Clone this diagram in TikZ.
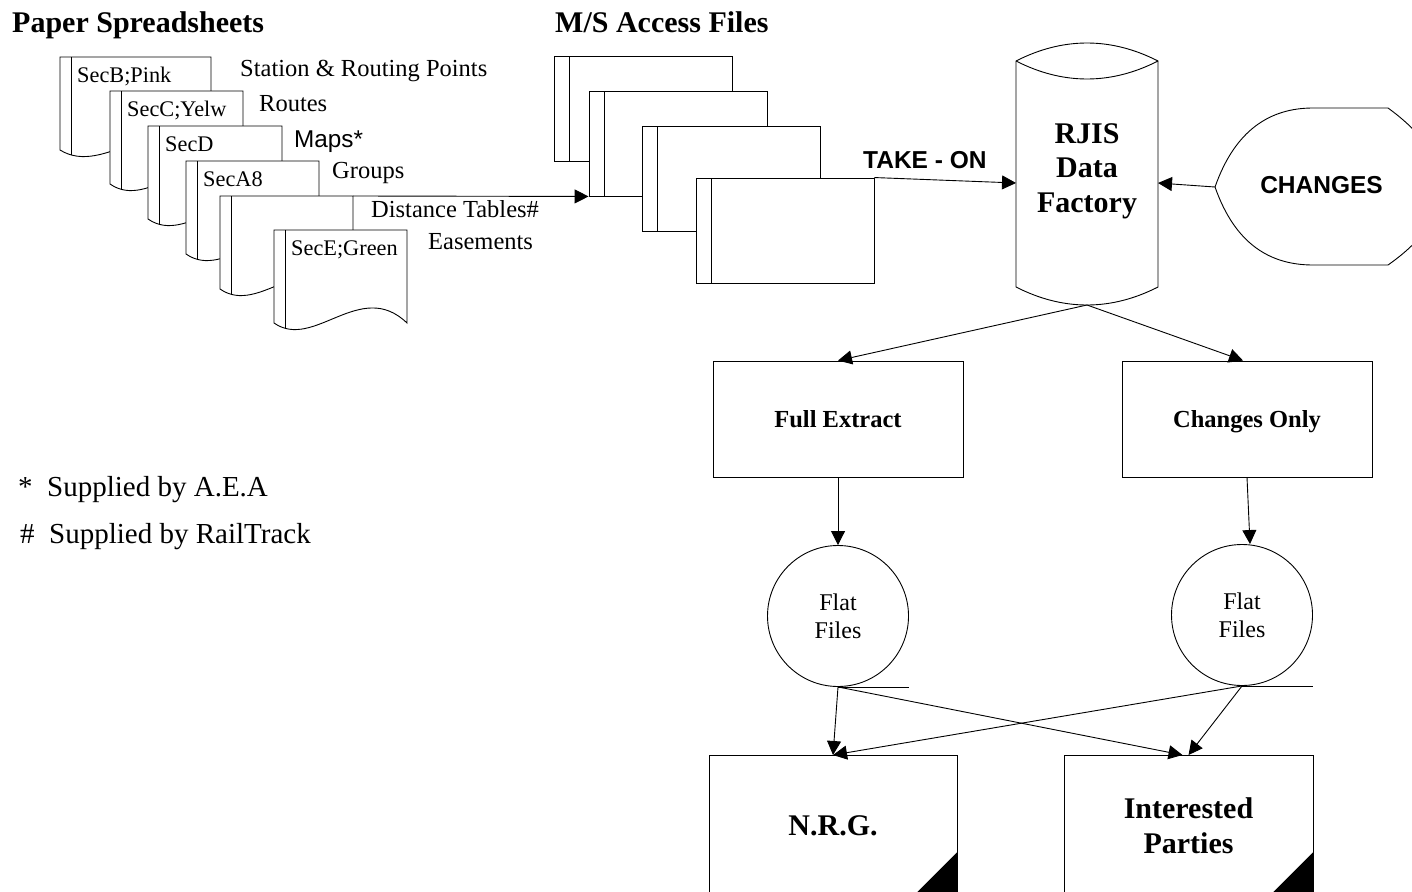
\documentclass[tikz,border=0pt]{standalone}
\usepackage{fontspec}
\setmainfont{Liberation Serif}
\newfontfamily\arialfont{Liberation Sans}
\usetikzlibrary{arrows.meta}

\tikzset{
  sheet/.style={draw, fill=white, line width=0.9pt,
    path picture={\draw[line width=0.9pt] ([xshift=11.5pt]path picture bounding box.north west) -- ([xshift=11.5pt]path picture bounding box.south west);}},
  accfile/.style={draw, fill=white, line width=0.9pt, minimum width=178pt, minimum height=105pt, inner sep=0pt,
    path picture={\draw[line width=0.9pt] ([xshift=15pt]path picture bounding box.north west) -- ([xshift=15pt]path picture bounding box.south west);}},
  sheetlabel/.style={anchor=base west, inner sep=0pt, font=\fontsize{22.3}{26}\selectfont},
  sidetext/.style={anchor=base west, inner sep=0pt, font=\fontsize{24.5}{28}\selectfont},
  sanstext/.style={anchor=base west, inner sep=0pt, font=\arialfont\fontsize{24.3}{28}\selectfont},
  headline/.style={anchor=base west, inner sep=0pt, font=\bfseries\fontsize{30}{34}\selectfont},
  footnote/.style={anchor=base west, inner sep=0pt, font=\fontsize{29}{33}\selectfont},
  extract/.style={draw, line width=0.9pt, minimum width=250pt, minimum height=116pt, text height=17pt, text depth=0pt,
    font=\bfseries\fontsize{24.5}{28}\selectfont},
  flatfile/.style={draw, circle, line width=0.9pt, minimum size=141pt, inner sep=0pt, align=center, font=\fontsize{24}{28}\selectfont},
  party/.style={draw, fill=white, anchor=north, line width=0.9pt, minimum width=248pt, minimum height=140pt, align=center,
    font=\bfseries\fontsize{30}{35}\selectfont,
    path picture={\fill[black] (path picture bounding box.south east) -- ++(0pt,43pt) -- ++(-43pt,-43pt) -- cycle;}},
  flow/.style={-{Triangle[length=14pt,width=14pt]}, line width=0.9pt},
}

% name, x, y, width, label
\newcommand{\papersheet}[5]{%
  \draw[sheet] (#2,#3) -- ({#2+#4},#3) -- ({#2+#4},{#3+93})
    .. controls ({#2+0.65*#4},{#3+48}) and ({#2+0.3*#4},{#3+121}) .. (#2,{#3+93}) -- cycle;
  \coordinate (#1-ne) at ({#2+#4},#3);
  \node[sheetlabel] (#1) at ({#2+17},{#3+25}) {#5};
}

\begin{document}
\begin{tikzpicture}[x=1pt,y=-1pt]
  \useasboundingbox (0,0) rectangle (1412,891);
  \clip (0,0) rectangle (1412,891);

  %%%%% paper spreadsheets %%%%%
  \node[headline] (papertitle) at (12,33) {Paper Spreadsheets};
  \papersheet{secb}{60}{57}{151}{SecB;Pink}
  \papersheet{secc}{110}{91}{133}{SecC;Yelw}
  \papersheet{secd}{148}{126}{134}{SecD}
  \papersheet{seca}{186}{161}{133}{SecA8}
  \papersheet{dist}{220}{196}{133}{}
  \papersheet{sece}{274}{230}{133}{SecE;Green}

  \node[sidetext] (stations) at (240,77) {Station \& Routing Points};
  \node[sidetext] (routes) at (259,111) {Routes};
  \node[sanstext] (maps) at (294,147) {Maps*};
  \node[sidetext] (groups) at (332,178) {Groups};
  \node[sidetext] (distance) at (371,217) {Distance Tables\#};
  \node[sidetext] (easements) at (428,249) {Easements};

  \node[footnote] (aea) at (18,496) {*~~Supplied by A.E.A};
  \node[footnote] (railtrack) at (20,543) {\#~~Supplied by RailTrack};

  %%%%% access files %%%%%
  \node[headline] (mstitle) at (555,33) {M/S Access Files};
  \node[accfile] (acc1) at (643,109) {};
  \node[accfile] (acc2) at (678,143.5) {};
  \node[accfile] (acc3) at (731,178.5) {};
  \node[accfile] (acc4) at (785,230.5) {};
  \draw[flow] (dist-ne) -- (acc2.south west);

  %%%%% data factory %%%%%
  \draw[fill=white, line width=0.9pt] (1016,61) .. controls (1063,37) and (1111,37) .. (1158,61)
    -- (1158,287) .. controls (1111,311) and (1063,311) .. (1016,287) -- cycle;
  \draw[line width=0.9pt] (1016,61) .. controls (1063,85) and (1111,85) .. (1158,61);
  \coordinate (rjis-w) at (1016,183);
  \coordinate (rjis-e) at (1158,183);
  \coordinate (rjis-s) at (1087,305);
  \node[align=center, font=\bfseries\fontsize{30}{34.5}\selectfont] (rjis) at (1087,171) {RJIS\\Data\\Factory};

  \draw[flow] (acc4.north east) -- (rjis-w);
  \node[sanstext, font=\arialfont\bfseries\fontsize{24.5}{28}\selectfont] (takeon) at (863,168) {TAKE - ON};

  \draw[fill=white, line width=0.9pt] (1215,187) .. controls (1235,130) and (1270,108) .. (1313,108)
    -- (1388,108) .. controls (1425,135) and (1440,160) .. (1440,187)
    .. controls (1440,214) and (1425,239) .. (1388,265) -- (1313,265)
    .. controls (1270,265) and (1235,244) .. (1215,187) -- cycle;
  \coordinate (chg-w) at (1215,187);
  \node[font=\arialfont\bfseries\fontsize{24.5}{28}\selectfont] (changes) at (1321.5,185) {CHANGES};
  \draw[flow] (chg-w) -- (rjis-e);

  %%%%% extracts %%%%%
  \node[extract] (fullx) at (838,419) {Full Extract};
  \node[extract] (chonly) at (1247,419) {Changes Only};
  \draw[flow] (rjis-s) -- (fullx.north);
  \draw[flow] (rjis-s) -- ([xshift=-4pt]chonly.north);

  \node[flatfile] (flat1) at (838,616) {Flat\\Files};
  \node[flatfile] (flat2) at (1242,615) {Flat\\Files};
  \draw[flow] (fullx.south) -- (flat1.north);
  \draw[flow] (chonly.south) -- ([xshift=8pt]flat2.north);
  \draw[line width=0.9pt] (flat1.south) -- ++(71,0);
  \draw[line width=0.9pt] (flat2.south) -- ++(71,0);

  %%%%% recipients %%%%%
  \node[party] (nrg) at (833,755) {N.R.G.};
  \node[party, minimum width=249pt] (parties) at (1188.5,755) {Interested\\Parties};
  \draw[flow] (flat1.south) -- (nrg.north);
  \draw[flow] (flat1.south) -- ([xshift=-6pt]parties.north);
  \draw[flow] (flat2.south) -- (nrg.north);
  \draw[flow] (flat2.south) -- (parties.north);
\end{tikzpicture}
\end{document}
